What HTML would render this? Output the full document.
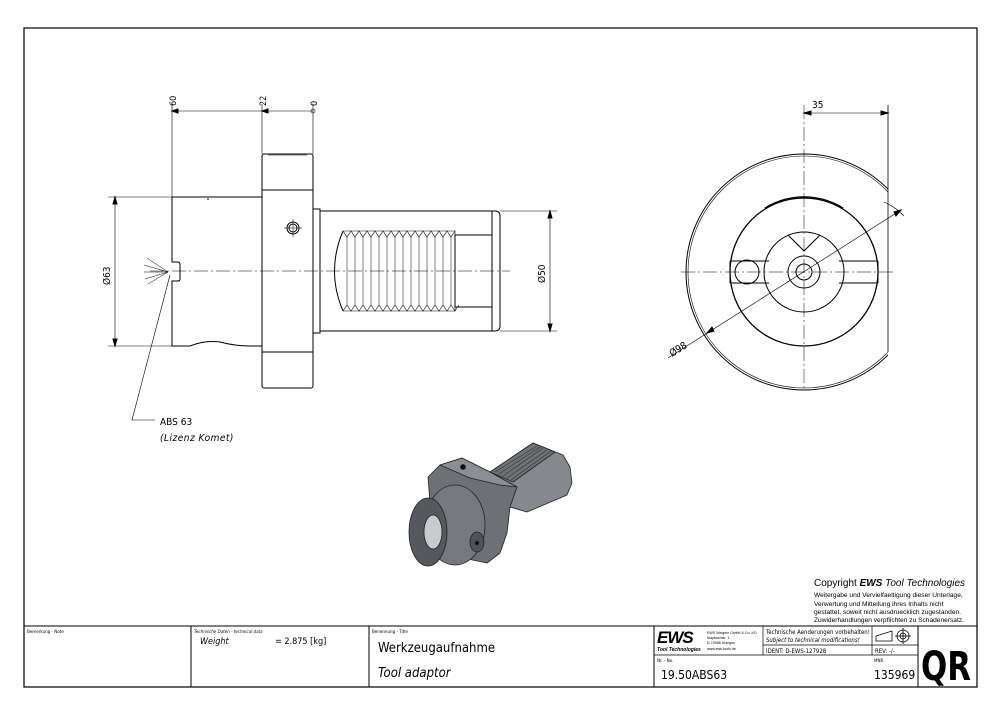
<!DOCTYPE html>
<html><head><meta charset="utf-8"><style>
body{margin:0;background:#fff}
svg{display:block}
text{font-family:"Liberation Sans",sans-serif;fill:#000}
.m{font-family:"DejaVu Sans Condensed","DejaVu Sans",sans-serif}
</style></head><body>
<svg width="1000" height="715" viewBox="0 0 1000 715" xmlns="http://www.w3.org/2000/svg">
<rect x="0" y="0" width="1000" height="715" fill="#fff"/>
<!-- frame -->
<rect x="24" y="28" width="953" height="659" fill="none" stroke="#000" stroke-width="1.2"/>
<line x1="24" y1="626" x2="977" y2="626" stroke="#000" stroke-width="1"/>
<line x1="191" y1="626" x2="191" y2="687" stroke="#000"/>
<line x1="369" y1="626" x2="369" y2="687" stroke="#000"/>
<line x1="654" y1="626" x2="654" y2="687" stroke="#000"/>
<line x1="918" y1="626" x2="918" y2="687" stroke="#000"/>
<line x1="763" y1="626" x2="763" y2="655" stroke="#000" stroke-width="0.7"/>
<line x1="763" y1="645" x2="918" y2="645" stroke="#000" stroke-width="0.7"/>
<line x1="654" y1="655" x2="918" y2="655" stroke="#000" stroke-width="0.7"/>
<line x1="872" y1="626" x2="872" y2="655" stroke="#000" stroke-width="0.7"/>
<text x="27" y="633" font-size="4.5" class="m">Bemerkung - Note</text>
<text x="194" y="633" font-size="4.5" class="m" font-style="italic">Technische Daten - technical data</text>
<text x="200" y="644" font-size="9" class="m" font-style="italic">Weight</text>
<text x="275" y="644" font-size="9" class="m">=  2.875 [kg]</text>
<text x="372" y="633" font-size="4.5" class="m">Benennung - Title</text>
<text x="378" y="652" font-size="13" class="m">Werkzeugaufnahme</text>
<text x="378" y="677" font-size="13" class="m" font-style="italic">Tool adaptor</text>
<text x="657" y="643" font-size="17" font-weight="bold" font-style="italic" letter-spacing="-1">EWS</text>
<text x="657" y="651" font-size="5" font-weight="bold" font-style="italic">Tool Technologies</text>
<text x="707" y="634" font-size="3.6">EWS Weigele GmbH &amp; Co. KG</text>
<text x="707" y="639" font-size="3.6">Maybachstr. 1</text>
<text x="707" y="644" font-size="3.6">D-73066 Uhingen</text>
<text x="707" y="650" font-size="3.6">www.ews-tools.de</text>
<text x="766" y="634" font-size="6" class="m">Technische Aenderungen vorbehalten!</text>
<text x="766" y="642" font-size="6" class="m" font-style="italic">Subject to technical modifications!</text>
<text x="766" y="653" font-size="6" class="m">IDENT:  D-EWS-127928</text>
<text x="875" y="653" font-size="6" class="m">REV:  -/-</text>
<g fill="none" stroke="#000" stroke-width="0.8">
<polygon points="876,636 892,631 892,641 876,641"/>
<circle cx="903" cy="636" r="6"/><circle cx="903" cy="636" r="3"/>
<line x1="895" y1="636" x2="911" y2="636"/><line x1="903" y1="628" x2="903" y2="644"/>
</g>
<text x="657" y="662" font-size="4.5" class="m">Nr. - No.</text>
<text x="661" y="679" font-size="12" class="m">19.50ABS63</text>
<text x="874" y="662" font-size="4.5" class="m">MNR.</text>
<text x="874" y="679" font-size="12" class="m">135969</text>
<text x="921" y="680" font-size="40" font-weight="bold" class="m" textLength="50" lengthAdjust="spacingAndGlyphs">QR</text>
<!-- copyright -->
<text x="814" y="586" font-size="10">Copyright <tspan font-weight="bold" font-style="italic">EWS</tspan><tspan font-style="italic"> Tool Technologies</tspan></text>
<text x="814" y="597" font-size="6.6">Weitergabe und Vervielfaeltigung dieser Unterlage,</text>
<text x="814" y="606" font-size="6.6">Verwertung und Mitteilung ihres Inhalts nicht</text>
<text x="814" y="614" font-size="6.6">gestattet, soweit nicht ausdruecklich zugestanden.</text>
<text x="814" y="622" font-size="6.6">Zuwiderhandlungen verpflichten zu Schadenersatz.</text>

<!-- side view -->
<g fill="none" stroke="#000" stroke-width="1">
<line x1="172" y1="111" x2="313" y2="111" stroke-width="0.6"/>
<polygon points="172,111 178,109 178,113" fill="#000"/>
<polygon points="262,111 268,109 268,113" fill="#000"/>
<line x1="172" y1="104" x2="172" y2="197" stroke-width="0.6"/>
<line x1="262" y1="104" x2="262" y2="154" stroke-width="0.6"/>
<line x1="313" y1="104" x2="313" y2="154" stroke-width="0.6"/>
<circle cx="313" cy="111" r="2" stroke-width="0.6"/>
<path d="M172,197 H262 M172,197 V262 H178 Q180,262 180,265 V279 Q180,281 178,281 H172 V346 H190 Q205,340 220,342 Q235,346 250,346 H262"/>
<rect x="262" y="154" width="51" height="234" rx="2"/>
<line x1="262" y1="190" x2="313" y2="190"/>
<line x1="262" y1="352" x2="313" y2="352"/>
<line x1="268" y1="155" x2="307" y2="155" stroke-width="0.5"/>
<line x1="208" y1="198" x2="208" y2="200" stroke-width="1"/>
<path d="M313,209 H320 V333 H313 Z"/>
<path d="M320,211 H495 Q500,211 500,216 V326 Q500,331 495,331 H320"/>
<line x1="492" y1="211" x2="492" y2="331"/>
<rect x="455" y="235" width="37" height="72"/>
<path d="M343,231 Q326,271 343,311"/>
<path d="M343,231 L455,231 L455,311 L343,311" stroke-width="0.6"/>
<path d="M343,231 l4,6 l4,-6 l4,6 l4,-6 l4,6 l4,-6 l4,6 l4,-6 l4,6 l4,-6 l4,6 l4,-6 l4,6 l4,-6 l4,6 l4,-6 l4,6 l4,-6 l4,6 l4,-6 l4,6 l4,-6 l4,6 l4,-6 l4,6 l4,-6 l4,6 l4,-6" stroke-width="0.6"/>
<path d="M343,311 l4,-6 l4,6 l4,-6 l4,6 l4,-6 l4,6 l4,-6 l4,6 l4,-6 l4,6 l4,-6 l4,6 l4,-6 l4,6 l4,-6 l4,6 l4,-6 l4,6 l4,-6 l4,6 l4,-6 l4,6 l4,-6 l4,6 l4,-6 l4,6 l4,-6 l4,6 l4,-6" stroke-width="0.6"/>
<g stroke-width="0.5"><line x1="347" y1="237" x2="347" y2="305"/><line x1="355" y1="237" x2="355" y2="305"/><line x1="363" y1="237" x2="363" y2="305"/><line x1="371" y1="237" x2="371" y2="305"/><line x1="379" y1="237" x2="379" y2="305"/><line x1="387" y1="237" x2="387" y2="305"/><line x1="395" y1="237" x2="395" y2="305"/><line x1="403" y1="237" x2="403" y2="305"/><line x1="411" y1="237" x2="411" y2="305"/><line x1="419" y1="237" x2="419" y2="305"/><line x1="427" y1="237" x2="427" y2="305"/><line x1="435" y1="237" x2="435" y2="305"/><line x1="443" y1="237" x2="443" y2="305"/><line x1="451" y1="237" x2="451" y2="305"/></g>
<circle cx="293" cy="228" r="6"/><circle cx="293" cy="228" r="4"/>
<line x1="284" y1="228" x2="302" y2="228" stroke-width="0.5"/><line x1="293" y1="219" x2="293" y2="237" stroke-width="0.5"/>
<line x1="150" y1="271" x2="510" y2="271" stroke-width="0.5" stroke-dasharray="14,3,2,3"/>
<!-- dims -->
<line x1="108" y1="197" x2="172" y2="197" stroke-width="0.5"/>
<line x1="108" y1="346" x2="172" y2="346" stroke-width="0.5"/>
<line x1="115" y1="197" x2="115" y2="346" stroke-width="0.6"/>
<polygon points="115,197 113,204 117,204" fill="#000"/><polygon points="115,346 113,339 117,339" fill="#000"/>
<line x1="500" y1="211" x2="557" y2="211" stroke-width="0.5"/>
<line x1="500" y1="331" x2="557" y2="331" stroke-width="0.5"/>
<line x1="550" y1="211" x2="550" y2="331" stroke-width="0.6"/>
<polygon points="550,211 548,218 552,218" fill="#000"/><polygon points="550,331 548,324 552,324" fill="#000"/>
<g stroke-width="0.5"><line x1="168" y1="272" x2="147" y2="258"/><line x1="168" y1="272" x2="144" y2="265"/><line x1="168" y1="272" x2="144" y2="272"/><line x1="168" y1="272" x2="145" y2="279"/><line x1="168" y1="272" x2="148" y2="284"/></g>
<polyline points="170,275 132,420 155,420" stroke-width="0.6"/>
</g>
<text transform="translate(176,106) rotate(-90)" font-size="9" class="m">60</text>
<text transform="translate(266,106) rotate(-90)" font-size="9" class="m">22</text>
<text transform="translate(317,106) rotate(-90)" font-size="9" class="m">0</text>
<text transform="translate(110,285) rotate(-90)" font-size="10" class="m">Ø63</text>
<text transform="translate(545,283) rotate(-90)" font-size="10" class="m">Ø50</text>
<text x="160" y="425" font-size="10" class="m">ABS 63</text>
<text x="160" y="441" font-size="10" class="m" font-style="italic" letter-spacing="0.5">(Lizenz Komet)</text>

<!-- front view -->
<defs><clipPath id="c"><rect x="600" y="100" width="288" height="360"/></clipPath></defs>
<g fill="none" stroke="#000" stroke-width="1">
<g clip-path="url(#c)"><circle cx="804" cy="272" r="118"/><circle cx="804" cy="272" r="116" stroke-width="0.6"/></g>
<line x1="888" y1="105" x2="888" y2="352" stroke-width="0.8"/>
<path d="M765,208 A74,74 0 0 1 843,208" stroke-width="1.3"/>
<circle cx="804" cy="272" r="74" stroke-width="1.3"/>
<path d="M730,261 H769 M730,283 H769 M839,261 H878 M839,283 H878"/>
<path d="M730,261 V283 M878,261 V283"/>
<circle cx="804" cy="272" r="40"/>
<path d="M788,235 L804,251 L820,235"/>
<circle cx="804" cy="272" r="16"/><circle cx="804" cy="272" r="8"/>
<circle cx="747" cy="272" r="12"/>
<line x1="681" y1="272" x2="895" y2="272" stroke-width="0.5" stroke-dasharray="14,3,2,3"/>
<line x1="804" y1="105" x2="804" y2="390" stroke-width="0.5" stroke-dasharray="14,3,2,3"/>
<line x1="804" y1="113" x2="888" y2="113" stroke-width="0.6"/>
<polygon points="804,113 811,111 811,115" fill="#000"/><polygon points="888,113 881,111 881,115" fill="#000"/>
<line x1="668" y1="358" x2="901" y2="210" stroke-width="0.6"/>
<path d="M884,202 Q897,208 904,216" stroke-width="0.6"/>
<polygon points="901,210 894,212 896,216" fill="#000"/>
<polygon points="707,333 714,331 712,327" fill="#000"/>
</g>
<text x="812" y="108" font-size="10" class="m">35</text>
<text transform="translate(672,357) rotate(-32)" font-size="10" class="m">Ø98</text>

<!-- isometric -->
<g stroke="#222" stroke-width="0.8" stroke-linejoin="round">
<polygon points="490,472 533,443 563,455 570,467 572,483 567,495 527,512 510,507" fill="#85888c"/>
<polygon points="490,472 533,443 555,452 513,482" fill="#6f7276"/>
<polygon points="428,477 440,465 462,458 490,472 517,487 510,507 507,533 500,553 487,563 463,558 433,540" fill="#6d7075"/>
<polygon points="440,465 462,458 490,472 517,487 500,485 470,478" fill="#8b8e92"/>
<ellipse cx="455" cy="525" rx="30" ry="40" fill="#75787d"/>
<ellipse cx="428" cy="532" rx="19" ry="34" fill="#55585c"/>
<ellipse cx="433" cy="532" rx="9" ry="17" fill="#c9cbce"/>
<ellipse cx="477" cy="542" rx="7" ry="10" fill="#4f5256"/>
<circle cx="463" cy="467" r="2.5" fill="#111"/>
<circle cx="477" cy="543" r="1.8" fill="#111"/>
</g>
<g stroke="#333" stroke-width="0.6"><line x1="495" y1="472" x2="537" y2="446"/><line x1="499" y1="474" x2="540" y2="447"/><line x1="503" y1="476" x2="543" y2="448"/><line x1="507" y1="478" x2="547" y2="450"/><line x1="511" y1="480" x2="551" y2="451"/></g>
</svg>
</body></html>
